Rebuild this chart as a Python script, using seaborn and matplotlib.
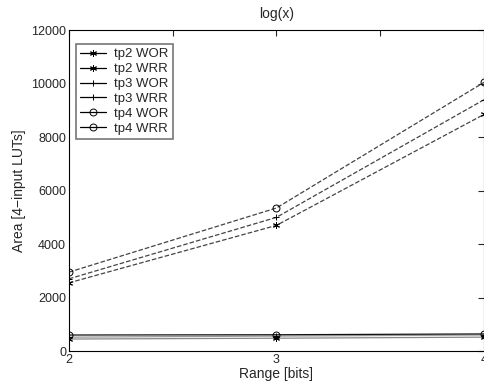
import numpy as np
import pandas as pd
import matplotlib
matplotlib.use("Agg")
import matplotlib.pyplot as plt
import seaborn as sns

sns.set_style("white")
plt.rcParams['font.family'] = ['Liberation Sans', 'DejaVu Sans']

# Data
range_bits = [2, 3, 4]
series_names = ['tp2 WOR', 'tp2 WRR', 'tp3 WOR', 'tp3 WRR', 'tp4 WOR', 'tp4 WRR']
tp2_wor = [2550, 4700, 8850]
tp2_wrr = [450, 480, 520]
tp3_wor = [2700, 5000, 9400]
tp3_wrr = [520, 560, 600]
tp4_wor = [2950, 5350, 10050]
tp4_wrr = [600, 610, 640]
values = [tp2_wor, tp2_wrr, tp3_wor, tp3_wrr, tp4_wor, tp4_wrr]

rows = []
for name, vals in zip(series_names, values):
    for x, v in zip(range_bits, vals):
        rows.append({'range': x, 'area': v, 'series': name})
df = pd.DataFrame(rows)

styles = {
    'tp2 WOR': dict(marker=(6, 2, 0), ls='--', color='#444444'),
    'tp2 WRR': dict(marker=(6, 2, 0), ls='-', color='#888888'),
    'tp3 WOR': dict(marker='+', ls='--', color='#444444'),
    'tp3 WRR': dict(marker='+', ls='-', color='#999999'),
    'tp4 WOR': dict(marker='o', ls='--', color='#444444'),
    'tp4 WRR': dict(marker='o', ls='-', color='#111111'),
}

fig = plt.figure(figsize=(4.85, 3.82), dpi=100)
ax = fig.add_axes([0.142, 0.081, 0.856, 0.84])

for name in series_names:
    st = styles[name]
    sns.lineplot(data=df[df.series == name], x='range', y='area', ax=ax,
                 color=st['color'], linestyle=st['ls'], marker=st['marker'],
                 markersize=5, markerfacecolor='none', markeredgecolor='black',
                 markeredgewidth=0.7, linewidth=0.9, label=name)

ax.set_xlim(2, 4)
ax.set_ylim(0, 12000)
ax.set_xticks([2, 2.5, 3, 3.5, 4])
ax.set_xticklabels(['2', '', '3', '', '4'])
ax.set_yticks(range(0, 12001, 2000))
ax.tick_params(direction='in', length=4, labelsize=9, top=True, right=True, pad=2)
for sp in ax.spines.values():
    sp.set_color('black')
    sp.set_linewidth(0.8)
ax.set_title('log(x)', fontsize=10, pad=9)
ax.set_xlabel('Range [bits]', fontsize=10, labelpad=1)
ax.set_ylabel('Area [4\u2212input LUTs]', fontsize=10)

leg = ax.legend(loc='upper left', fontsize=9.5, frameon=True, fancybox=False,
                edgecolor='#555555', borderpad=0.3, labelspacing=0.2,
                handlelength=2.0, handletextpad=0.6, borderaxespad=0.7,
                bbox_to_anchor=(-0.005, 0.985))
for h in leg.get_lines():
    h.set_color('black')
    h.set_linestyle('-')
leg.get_frame().set_linewidth(1.2)

fig.savefig('out.png', dpi=100)
